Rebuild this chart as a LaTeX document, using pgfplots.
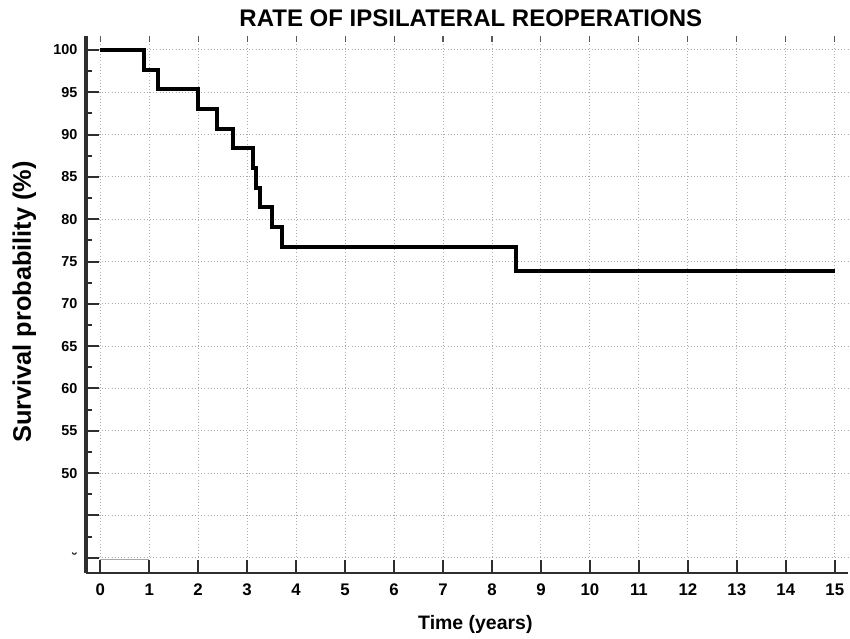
\documentclass[border=0pt]{standalone}
\usepackage{pgfplots}
\pgfplotsset{compat=1.18}
\usepackage{fontspec}
\setmainfont{Liberation Sans}
\definecolor{axcol}{HTML}{2E2E2E}
\definecolor{gridcol}{HTML}{AAAAAA}
\begin{document}
\begin{tikzpicture}
\begin{axis}[
  name=main,
  scale only axis,
  width=571.5pt, height=402.75pt,
  xmin=-0.29, xmax=15.27,
  ymin=38.2, ymax=101.65,
  axis lines*=left,
  x axis line style={line width=2.2pt, color=axcol},
  y axis line style={line width=3pt, color=axcol},
  tick align=inside,
  xtick={0,1,...,15},
  ytick={40,45,...,100},
  yticklabels={\char"02D8,,50,55,60,65,70,75,80,85,90,95,100},
  minor y tick num=1,
  major tick length=9.5pt,
  minor tick length=4.5pt,
  every tick/.style={line width=1.5pt, color=axcol},
  grid=major,
  major grid style={dotted, line width=0.7pt, color=gridcol},
  /pgf/number format/assume math mode=true,
  xticklabel style={font=\fontsize{12.6pt}{14pt}\selectfont\bfseries, text height=9pt, text depth=0pt, yshift=-4.5pt},
  yticklabel style={font=\fontsize{10.8pt}{12pt}\selectfont\bfseries, xshift=-3pt},
  clip=false,
  xlabel={Time (years)},
  xlabel style={at={(rel axis cs:0.511,-0.1061)}, anchor=base, font=\fontsize{14.6pt}{17pt}\selectfont\bfseries},
  ylabel={Survival probability (\%)},
  ylabel style={at={(rel axis cs:-0.0722,0.5047)}, anchor=base, font=\fontsize{19pt}{22pt}\selectfont\bfseries},
]
\addplot[gray!70, line width=0.6pt] coordinates {(0,39.75) (1,39.75)};
\addplot[const plot, black, line width=3pt, line join=miter] coordinates {
  (0,100) (0.90,97.67) (1.19,95.35) (1.99,93.02) (2.38,90.70) (2.72,88.37)
  (3.12,86.05) (3.18,83.72) (3.27,81.40) (3.50,79.07) (3.71,76.74)
  (8.50,73.9) (15,73.9)
};
\node[anchor=base, font=\fontsize{18pt}{21pt}\selectfont\bfseries, inner sep=0pt] at (rel axis cs:0.505,1.0168) {RATE OF IPSILATERAL REOPERATIONS};
\end{axis}
\begin{axis}[
  scale only axis,
  width=571.5pt, height=402.75pt,
  xmin=-0.29, xmax=15.27,
  ymin=38.2, ymax=101.65,
  axis x line*=top,
  axis y line=none,
  axis line style={draw=none},
  tick align=inside,
  xtick={0,1,...,15},
  xticklabels={},
  major tick length=4.5pt,
  every tick/.style={line width=0.8pt, color=axcol!80},
]
\end{axis}
\pgfresetboundingbox
\path ([shift={(-64.5pt,-49.5pt)}]main.south west) rectangle ([shift={(1.5pt,27pt)}]main.north east);
\end{tikzpicture}
\end{document}
